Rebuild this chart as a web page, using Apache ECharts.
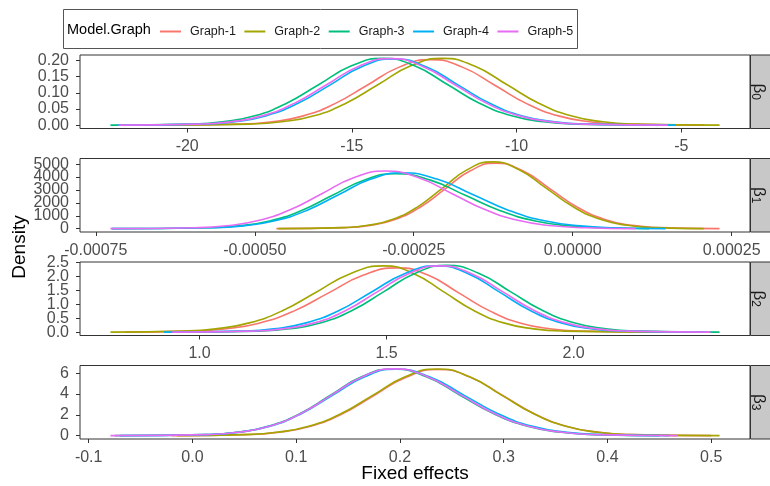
<!DOCTYPE html>
<html><head><meta charset="utf-8">
<script src="https://cdn.jsdelivr.net/npm/echarts@6/dist/echarts.min.js"></script>
<style>html,body{margin:0;padding:0;background:#fff}#c{width:770px;height:486px}</style>
</head><body><div id="c"></div>
<script>
const groups = ['Graph-1', 'Graph-2', 'Graph-3', 'Graph-4', 'Graph-5'];
const facetSubs = ['0', '1', '2', '3'];
const legendTitle = 'Model.Graph';
const xTitle = 'Fixed effects';
const yTitle = 'Density';

// beta0
const b0_g1 = [[-21.4,0],[-18.45,0.0032],[-17.48,0.010],[-16.5,0.028],[-15.53,0.066],[-14.55,0.123],[-13.58,0.179],[-12.6,0.203],[-11.63,0.179],[-10.65,0.123],[-9.68,0.066],[-8.7,0.028],[-7.73,0.010],[-6.75,0.0032],[-4.3,0]];
const b0_g2 = [[-20.8,0],[-18.1,0.0033],[-17.13,0.0104],[-16.15,0.029],[-15.18,0.068],[-14.2,0.126],[-13.23,0.183],[-12.25,0.207],[-11.28,0.183],[-10.3,0.126],[-9.33,0.068],[-8.35,0.029],[-7.38,0.0104],[-6.4,0.0033],[-3.84,0]];
const b0_g3 = [[-22.33,0],[-19.9,0.0033],[-18.93,0.0104],[-17.95,0.029],[-16.98,0.068],[-16.0,0.126],[-15.03,0.183],[-14.05,0.207],[-13.08,0.183],[-12.1,0.126],[-11.13,0.068],[-10.15,0.029],[-9.18,0.0104],[-8.2,0.0033],[-5.6,0]];
const b0_g4 = [[-22.1,0],[-19.57,0.0033],[-18.6,0.0103],[-17.62,0.0287],[-16.65,0.067],[-15.67,0.124],[-14.7,0.181],[-13.72,0.205],[-12.75,0.181],[-11.77,0.124],[-10.8,0.067],[-9.82,0.0287],[-8.85,0.0103],[-7.87,0.0033],[-5.17,0]];
const b0_g5 = [[-22.08,0],[-19.67,0.0033],[-18.7,0.0103],[-17.72,0.0288],[-16.75,0.0674],[-15.77,0.125],[-14.8,0.182],[-13.82,0.206],[-12.85,0.182],[-11.87,0.125],[-10.9,0.0674],[-9.92,0.0288],[-8.95,0.0103],[-7.97,0.0033],[-5.41,0]];
// beta1
const b1_g1 = [[-46.6e-5,0],[-35.85e-5,81],[-31.9e-5,254],[-27.95e-5,711],[-24.0e-5,1661],[-20.05e-5,3084],[-16.1e-5,4486],[-12.15e-5,5080],[-7.85e-5,4486],[-3.55e-5,3084],[0.75e-5,1661],[5.05e-5,711],[9.35e-5,254],[13.65e-5,81],[23.1e-5,0]];
const b1_g2 = [[-46.3e-5,0],[-36.07e-5,83],[-32.17e-5,259],[-28.27e-5,725],[-24.37e-5,1694],[-20.47e-5,3144],[-16.57e-5,4574],[-12.67e-5,5180],[-8.42e-5,4574],[-4.17e-5,3144],[0.08e-5,1694],[4.33e-5,725],[8.58e-5,259],[12.83e-5,83],[20.6e-5,0]];
const b1_g3 = [[-72.5e-5,0],[-57.58e-5,68],[-52.63e-5,213],[-47.68e-5,596],[-42.73e-5,1393],[-37.78e-5,2586],[-32.83e-5,3762],[-27.88e-5,4260],[-22.38e-5,3762],[-16.88e-5,2586],[-11.38e-5,1393],[-5.88e-5,596],[-0.38e-5,213],[5.12e-5,68],[12.0e-5,0]];
const b1_g4 = [[-72.5e-5,0],[-56.83e-5,69],[-51.83e-5,217],[-46.83e-5,606],[-41.83e-5,1416],[-36.83e-5,2628],[-31.83e-5,3823],[-26.83e-5,4330],[-21.23e-5,3823],[-15.63e-5,2628],[-10.03e-5,1416],[-4.43e-5,606],[1.17e-5,217],[6.77e-5,69],[14.6e-5,0]];
const b1_g5 = [[-72.7e-5,0],[-59.45e-5,72],[-54.45e-5,224],[-49.45e-5,626],[-44.45e-5,1462],[-39.45e-5,2713],[-34.45e-5,3947],[-29.45e-5,4470],[-24.2e-5,3947],[-18.95e-5,2713],[-13.7e-5,1462],[-8.45e-5,626],[-3.2e-5,224],[2.05e-5,72],[9.86e-5,0]];
// beta2
const b2_g1 = [[0.80,0],[0.974,0.037],[1.067,0.116],[1.159,0.323],[1.252,0.755],[1.344,1.402],[1.437,2.04],[1.529,2.31],[1.612,2.04],[1.694,1.402],[1.777,0.755],[1.859,0.323],[1.942,0.116],[2.024,0.037],[2.30,0]];
const b2_g2 = [[0.762,0],[0.953,0.038],[1.043,0.119],[1.133,0.333],[1.223,0.778],[1.313,1.445],[1.403,2.10],[1.493,2.38],[1.573,2.10],[1.653,1.445],[1.733,0.778],[1.813,0.333],[1.893,0.119],[1.973,0.038],[2.25,0]];
const b2_g3 = [[0.93,0],[1.157,0.038],[1.241,0.12],[1.325,0.336],[1.409,0.785],[1.493,1.457],[1.577,2.119],[1.661,2.40],[1.746,2.119],[1.831,1.457],[1.916,0.785],[2.001,0.336],[2.086,0.12],[2.171,0.038],[2.39,0]];
const b2_g4 = [[0.905,0],[1.11,0.038],[1.198,0.119],[1.285,0.333],[1.373,0.778],[1.46,1.445],[1.548,2.10],[1.635,2.38],[1.718,2.10],[1.801,1.445],[1.884,0.778],[1.967,0.333],[2.05,0.119],[2.133,0.038],[2.35,0]];
const b2_g5 = [[0.927,0],[1.139,0.038],[1.223,0.119],[1.307,0.333],[1.391,0.778],[1.475,1.445],[1.559,2.10],[1.643,2.38],[1.727,2.10],[1.811,1.445],[1.895,0.778],[1.979,0.333],[2.063,0.119],[2.147,0.038],[2.366,0]];
// beta3
const b3_g1 = [[-0.02,0],[0.051,0.102],[0.082,0.318],[0.113,0.89],[0.144,2.08],[0.175,3.861],[0.206,5.616],[0.237,6.36],[0.268,5.616],[0.299,3.861],[0.33,2.08],[0.361,0.89],[0.392,0.318],[0.423,0.102],[0.50,0]];
const b3_g2 = [[-0.015,0],[0.05,0.103],[0.081,0.321],[0.112,0.897],[0.143,2.096],[0.174,3.891],[0.205,5.66],[0.236,6.41],[0.267,5.66],[0.298,3.891],[0.329,2.096],[0.36,0.897],[0.391,0.321],[0.422,0.103],[0.508,0]];
const b3_g3 = [[-0.075,0],[0.013,0.102],[0.043,0.32],[0.073,0.896],[0.103,2.093],[0.133,3.885],[0.163,5.651],[0.193,6.40],[0.2255,5.651],[0.258,3.885],[0.2905,2.093],[0.323,0.896],[0.3555,0.32],[0.388,0.102],[0.45,0]];
const b3_g4 = [[-0.07,0],[0.013,0.102],[0.0435,0.319],[0.074,0.893],[0.1045,2.086],[0.135,3.873],[0.1655,5.634],[0.196,6.38],[0.229,5.634],[0.262,3.873],[0.295,2.086],[0.328,0.893],[0.361,0.319],[0.394,0.102],[0.46,0]];
const b3_g5 = [[-0.079,0],[0.014,0.103],[0.044,0.321],[0.074,0.899],[0.104,2.099],[0.134,3.897],[0.164,5.669],[0.194,6.42],[0.2265,5.669],[0.259,3.897],[0.2915,2.099],[0.324,0.899],[0.3565,0.321],[0.389,0.103],[0.467,0]];

// tick values
const b0_xticks = [-20, -15, -10, -5];
const b0_yticks = [0, 0.05, 0.10, 0.15, 0.20];
const b1_xticks = [-0.00075, -0.0005, -0.00025, 0, 0.00025];
const b1_yticks = [0, 1000, 2000, 3000, 4000, 5000];
const b2_xticks = [1.0, 1.5, 2.0];
const b2_yticks = [0, 0.5, 1.0, 1.5, 2.0, 2.5];
const b3_xticks = [-0.1, 0, 0.1, 0.2, 0.3, 0.4, 0.5];
const b3_yticks = [0, 2, 4, 6];

// ---- layout / styling ----
const colors = ['#F8766D', '#A3A500', '#00BF7D', '#00B0F6', '#E76BF3'];
const panels = [
  { series: [b0_g1, b0_g2, b0_g3, b0_g4, b0_g5], xt: b0_xticks, yt: b0_yticks, xd: 0, yd: 2 },
  { series: [b1_g1, b1_g2, b1_g3, b1_g4, b1_g5], xt: b1_xticks, yt: b1_yticks, xd: 5, yd: 0 },
  { series: [b2_g1, b2_g2, b2_g3, b2_g4, b2_g5], xt: b2_xticks, yt: b2_yticks, xd: 1, yd: 1 },
  { series: [b3_g1, b3_g2, b3_g3, b3_g4, b3_g5], xt: b3_xticks, yt: b3_yticks, xd: 1, yd: 0 }
];
const tops = [55, 158.5, 262, 365.5];
const PH = 73.5, PL = 80, PW = 670;
const FONT = 'Liberation Sans, Arial, Helvetica, sans-serif';
const tickColor = '#333333', labColor = '#4D4D4D';

const grid = [], xAxis = [], yAxis = [], series = [], graphic = [];
panels.forEach((p, i) => {
  let xmin = Infinity, xmax = -Infinity, ymax = 0;
  p.series.forEach(s => s.forEach(([x, y]) => { xmin = Math.min(xmin, x); xmax = Math.max(xmax, x); ymax = Math.max(ymax, y); }));
  const xr = xmax - xmin;
  grid.push({ left: PL, top: tops[i], width: PW, height: PH, show: true, borderColor: '#333333', borderWidth: 1, backgroundColor: '#fff' });
  xAxis.push({
    type: 'value', gridIndex: i, position: 'bottom', min: xmin - 0.05 * xr, max: xmax + 0.05 * xr,
    axisLine: { show: false, onZero: false }, splitLine: { show: false },
    axisTick: { show: true, customValues: p.xt, length: 4, lineStyle: { color: tickColor, width: 1 } },
    axisLabel: { customValues: p.xt, margin: 10.5, fontSize: 16, color: labColor, fontFamily: FONT,
      showMinLabel: true, showMaxLabel: true, hideOverlap: false,
      formatter: v => (p.xd === 0 ? String(Math.round(v)) : Number(v).toFixed(p.xd)) }
  });
  // y ticks split over two overlaid axes (alternating) so dense labels are all drawn
  [0, 1].forEach(k => {
    const vals = p.yt.filter((_, j) => j % 2 === k);
    yAxis.push({
      type: 'value', gridIndex: i, position: 'left', offset: 0, min: -0.05 * ymax, max: 1.05 * ymax,
      axisLine: { show: false, onZero: false }, splitLine: { show: false },
      axisTick: { show: true, customValues: vals, length: 4, lineStyle: { color: tickColor, width: 1 } },
      axisLabel: { customValues: vals, margin: 11, fontSize: 16, color: labColor, fontFamily: FONT,
        showMinLabel: true, showMaxLabel: true, hideOverlap: false,
        formatter: v => (p.yd === 0 ? String(Math.round(v)) : Number(v).toFixed(p.yd)) }
    });
  });
  p.series.forEach((d, g) => {
    series.push({
      type: 'line', name: groups[g], xAxisIndex: i, yAxisIndex: 2 * i, data: d,
      showSymbol: false, symbol: 'none', smooth: 0.5,
      lineStyle: { width: 1.6, color: colors[g] }, itemStyle: { color: colors[g] },
      emphasis: { disabled: true }, silent: true, z: 2 + g
    });
  });
  // strip
  graphic.push({ type: 'rect', shape: { x: 750.5, y: tops[i], width: 25, height: PH },
    style: { fill: '#C8C8C8', stroke: '#333333', lineWidth: 1 }, z: 10 });
  graphic.push({ type: 'text', x: 759, y: tops[i] + PH / 2, rotation: -Math.PI / 2, z: 11,
    style: { text: '{a|β}{b|' + facetSubs[i] + '}', align: 'center', verticalAlign: 'middle',
      rich: { a: { fontSize: 17, fill: '#1A1A1A', fontFamily: FONT },
              b: { fontSize: 12, fill: '#1A1A1A', fontFamily: FONT, verticalAlign: 'bottom', padding: [7, 0, 0, 0] } } } });
});

// legend box + title
graphic.push({ type: 'rect', shape: { x: 63.5, y: 9.5, width: 514, height: 39 },
  style: { fill: 'none', stroke: '#555555', lineWidth: 1 }, z: 10 });
graphic.push({ type: 'text', x: 67, y: 30, z: 11,
  style: { text: legendTitle, fontSize: 14.5, fill: '#000', fontFamily: FONT, align: 'left', verticalAlign: 'middle' } });
// axis titles
graphic.push({ type: 'text', x: 20, y: 247, rotation: Math.PI / 2, z: 11,
  style: { text: yTitle, fontSize: 19, fill: '#000', fontFamily: FONT, align: 'center', verticalAlign: 'middle' } });
graphic.push({ type: 'text', x: 415, y: 474, z: 11,
  style: { text: xTitle, fontSize: 19, fill: '#000', fontFamily: FONT, align: 'center', verticalAlign: 'middle' } });

const chart = echarts.init(document.getElementById('c'), null, { renderer: 'canvas' });
chart.setOption({
  animation: false,
  backgroundColor: '#ffffff',
  legend: {
    data: groups, left: 160, top: 25, padding: 0, itemWidth: 21, itemHeight: 2, icon: 'rect', itemGap: 8.5,
    selectedMode: false,
    textStyle: { fontSize: 12.5, color: '#1A1A1A', fontFamily: FONT, padding: [0, 0, 0, 4], width: 46 }
  },
  grid, xAxis, yAxis, series, graphic
});
</script>
</body></html>
